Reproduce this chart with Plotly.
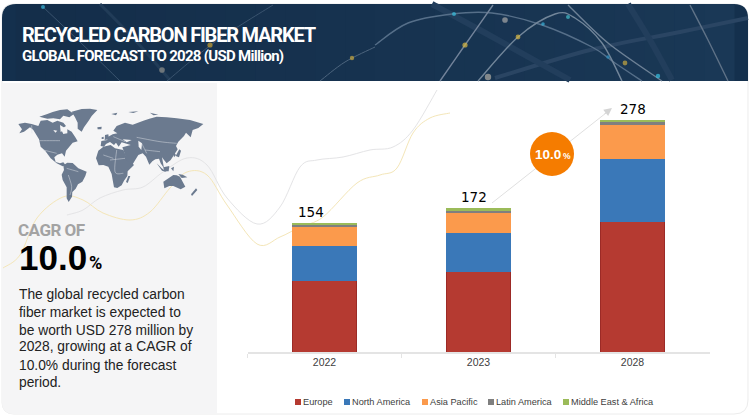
import plotly.graph_objects as go

W, H = 750, 417
categories = ["2022", "2023", "2028"]
europe = [85, 96, 156]
north_america = [42, 46, 75]
asia_pacific = [23, 25, 40]
latin_america = [2, 2, 4]
middle_east_africa = [2, 3, 3]
totals = [154, 172, 278]
series_names = ["Europe", "North America", "Asia Pacific", "Latin America", "Middle East & Africa"]
series_colors = ["#b53a31", "#3a78b8", "#fb9a4c", "#7f7f7f", "#9bbb59"]
label_shift = [-14, -5, 0]
paragraph_lines = ["The global recycled carbon", "fiber market is expected to", "be worth USD 278 million by",
                   "2028, growing at a CAGR of", "10.0% during the forecast", "period."]


def X(x):
    return round(x / W, 5)


def Y(y):
    return round(1 - y / H, 5)


def poly(pts):
    return "M" + " L".join(f"{X(x)},{Y(y)}" for x, y in pts) + " Z"


def smooth(pts):
    d = f"M{X(pts[0][0])},{Y(pts[0][1])}"
    n = len(pts)
    for i in range(n - 1):
        p0 = pts[max(i - 1, 0)]
        p1 = pts[i]
        p2 = pts[i + 1]
        p3 = pts[min(i + 2, n - 1)]
        c1 = (p1[0] + (p2[0] - p0[0]) / 6, p1[1] + (p2[1] - p0[1]) / 6)
        c2 = (p2[0] - (p3[0] - p1[0]) / 6, p2[1] - (p3[1] - p1[1]) / 6)
        d += f" C{X(c1[0])},{Y(c1[1])} {X(c2[0])},{Y(c2[1])} {X(p2[0])},{Y(p2[1])}"
    return d


def rrect(x0, y0, x1, y1, tl=0, tr=0, br=0, bl=0):
    d = f"M{X(x0 + tl)},{Y(y0)} L{X(x1 - tr)},{Y(y0)}"
    if tr:
        d += f" Q{X(x1)},{Y(y0)} {X(x1)},{Y(y0 + tr)}"
    d += f" L{X(x1)},{Y(y1 - br)}"
    if br:
        d += f" Q{X(x1)},{Y(y1)} {X(x1 - br)},{Y(y1)}"
    d += f" L{X(x0 + bl)},{Y(y1)}"
    if bl:
        d += f" Q{X(x0)},{Y(y1)} {X(x0)},{Y(y1 - bl)}"
    d += f" L{X(x0)},{Y(y0 + tl)}"
    if tl:
        d += f" Q{X(x0)},{Y(y0)} {X(x0 + tl)},{Y(y0)}"
    return d + " Z"


shapes = []


def add_path(path, fill=None, line=None, width=0, opacity=1.0):
    s = dict(type="path", path=path, xref="paper", yref="paper", layer="below", opacity=opacity,
             line=dict(color=line or "rgba(0,0,0,0)", width=width))
    if fill:
        s["fillcolor"] = fill
    shapes.append(s)


def add_spot(x, y, r, color, opacity=0.7):
    shapes.append(dict(type="circle", xref="paper", yref="paper", layer="below", opacity=opacity,
                       x0=X(x - r), x1=X(x + r), y0=Y(y + r), y1=Y(y - r),
                       fillcolor=color, line=dict(width=0)))


# Card outline and left panel
add_path(rrect(2, 4, 748, 414, 12, 14, 14, 12), fill="#ffffff", line="#ececec", width=1)
add_path(rrect(2, 83, 217, 414, 0, 0, 0, 12), fill="#f5f5f6")

# Banner with horizontal colour drift
add_path(rrect(2, 4, 748, 81, 14, 14, 0, 0), fill="#14304d")
steps = 24
for i in range(steps):
    t = i / (steps - 1)
    x0 = 16 + (734 - 16) * i / steps
    x1 = 16 + (734 - 16) * (i + 1) / steps + 0.6
    c = (int(20 + 6 * t), int(46 + 10 * t), int(74 + 12 * t))
    add_path(poly([(x0, 4), (x1, 4), (x1, 81), (x0, 81)]), fill=f"rgb{c}")

# Faint wide bands inside the banner
for pts, w, col in [
    ([(495, 78), (590, 50), (680, 32), (748, 18)], 4, "#2a4563"),
    ([(628, 4), (650, 40), (672, 80)], 6, "#223e5c"),
    ([(432, 4), (480, 30), (570, 80)], 6, "#223e5c"),
    ([(100, 4), (135, 40), (170, 80)], 3, "#213c58"),
]:
    add_path(smooth(pts), line=col, width=w)

# Fibres in the banner
for pts, w, col in [
    ([(375, 45), (408, 23), (452, 14), (492, 13), (542, 25), (592, 47), (615, 63), (642, 81)], 1.4, "#566f89"),
    ([(440, 81), (465, 45), (493, 5)], 1.4, "#72839a"),
    ([(478, 81), (518, 37), (555, 14), (575, 18), (602, 43), (622, 81)], 1.4, "#72869a"),
    ([(568, 5), (608, 43), (662, 81)], 1.4, "#6d8196"),
    ([(690, 5), (708, 40), (728, 81)], 1.4, "#5f7287"),
    ([(43, 7), (80, 42), (120, 81)], 0.8, "#425c76"),
    ([(273, 5), (215, 42), (167, 81)], 0.8, "#425c76"),
    ([(375, 47), (345, 62), (320, 81)], 1.0, "#4d657e"),
]:
    add_path(smooth(pts), line=col, width=w)

for x, y, r, col in [
    (43, 7, 2, "#38b6d8"), (454, 14, 2, "#38c0e0"), (543, 24, 1.8, "#38b0d8"), (568, 17, 2, "#45c0cc"),
    (658, 76, 2.2, "#38c0e0"), (608, 57, 1.8, "#2a8fc0"), (465, 45, 2.6, "#d8b840"), (518, 37, 2.4, "#d8b840"),
    (625, 63, 2.4, "#c8a840"), (210, 45, 2.6, "#c8a030"), (352, 58, 2.2, "#c8a840"), (505, 20, 2.8, "#a8a8a8"),
    (488, 77, 3.2, "#b0aca4"), (162, 70, 2.8, "#8f8f8a"),
]:
    add_spot(x, y, r, col)

# Thin decorative curves
add_path(smooth([(67, 215), (83, 210), (100, 198), (123, 190), (143, 187), (163, 172), (187, 158), (207, 165),
                 (227, 198), (257, 224), (280, 207), (300, 167), (317, 160), (343, 157), (370, 150), (393, 147),
                 (413, 130), (437, 90)]), line="#e4e4e6", width=1)
add_path(smooth([(3, 268), (20, 255), (37, 218), (63, 197), (83, 200), (103, 213), (130, 220), (150, 212),
                 (170, 188), (187, 172), (207, 175), (227, 205), (257, 244), (280, 237), (300, 227), (323, 217),
                 (357, 183), (380, 175), (397, 168), (413, 133), (430, 118), (450, 113)]), line="#f4e6b8", width=1)


# Simplified world map (zoom-space outline scaled to the page)
def zm(pts):
    return [(10 + x / 3, 100 + y / 3) for x, y in pts]


MAP = "#6b7a8f"
PANEL = "#f5f5f6"
land = [
    # North America
    [(25, 72), (45, 68), (65, 72), (85, 78), (92, 62), (112, 60), (128, 68), (142, 62), (160, 68), (168, 78), (153, 88),
     (160, 102), (172, 100), (172, 88), (185, 95), (196, 112), (203, 124), (188, 128), (178, 140), (168, 152), (164, 170),
     (156, 160), (142, 164), (133, 172), (137, 186), (150, 190), (160, 187), (167, 196), (158, 199), (140, 190), (122, 175),
     (106, 153), (92, 140), (87, 118), (70, 90), (60, 82), (42, 95), (28, 100), (36, 88)],
    # Arctic islands
    [(88, 50), (112, 42), (128, 36), (150, 30), (172, 28), (192, 42), (178, 52), (160, 47), (150, 58), (130, 55), (112, 56)],
    # Greenland
    [(185, 35), (215, 27), (240, 26), (262, 30), (245, 48), (236, 62), (222, 82), (215, 95), (203, 86), (203, 68), (195, 52)],
    # South America
    [(160, 196), (172, 188), (188, 189), (205, 205), (230, 215), (226, 228), (217, 245), (204, 253), (197, 266), (187, 276), (186, 290),
     (176, 306), (170, 295), (170, 262), (158, 240), (155, 224), (162, 210)],
    # Africa
    [(265, 152), (280, 140), (302, 135), (315, 145), (340, 150), (350, 172), (372, 195), (353, 214), (352, 228), (342, 242), (335, 256),
     (322, 264), (312, 262), (308, 240), (305, 222), (295, 200), (280, 195), (266, 196), (258, 175)],
    # Europe with Asia
    [(272, 138), (274, 123), (292, 120), (292, 112), (308, 103), (322, 100), (310, 92), (320, 78), (345, 68), (368, 74), (400, 62),
     (418, 56), (440, 50), (470, 52), (500, 55), (540, 60), (580, 72), (565, 84), (548, 90), (542, 112), (528, 98), (522, 108),
     (505, 125), (498, 138), (503, 148), (492, 165), (482, 180), (470, 190), (462, 180), (456, 172), (462, 205), (452, 190),
     (447, 176), (436, 178), (427, 184), (418, 194), (408, 170), (398, 160), (385, 165), (366, 196), (350, 180), (342, 155),
     (337, 142), (362, 135), (335, 127), (326, 140), (318, 128), (312, 135), (300, 126), (288, 132), (282, 140)],
    # Smaller land
    [(355, 228), (361, 228), (353, 249), (348, 246)],
    [(460, 245), (480, 232), (490, 225), (500, 226), (510, 230), (518, 245), (526, 260), (512, 268), (490, 258), (478, 258), (463, 265)],
    [(505, 222), (518, 224), (532, 232), (515, 234)],
    [(440, 190), (455, 205), (470, 216), (456, 212)],
    [(460, 202), (478, 198), (476, 214), (462, 214)],
    [(483, 205), (492, 200), (490, 214)],
    [(497, 168), (508, 148), (513, 152), (507, 172)],
    [(285, 105), (295, 103), (297, 118), (284, 120)],
    [(275, 112), (281, 110), (281, 117), (275, 117)],
    [(262, 82), (275, 80), (274, 88), (263, 88)],
    [(558, 265), (562, 270), (546, 288), (543, 283)],
    [(420, 38), (445, 44), (430, 46)],
    [(304, 42), (322, 38), (318, 46)],
    [(355, 36), (385, 34), (370, 39)],
    [(490, 155), (498, 165), (492, 172)],
]
for part in land:
    add_path(poly(zm(part)), fill=MAP)
for part in [
    [(338, 118), (365, 120), (350, 127)],
    [(385, 122), (396, 130), (394, 150), (386, 140)],
    [(150, 75), (168, 86), (152, 96)],
    [(130, 90), (142, 92), (136, 98)],
]:
    add_path(poly(zm(part)), fill=PANEL)
for pts in [
    [(65, 76), (66, 100)], [(88, 122), (150, 122)], [(100, 150), (140, 160)], [(175, 225), (185, 260), (180, 285)],
    [(300, 180), (345, 175)], [(320, 150), (315, 215), (340, 220)], [(380, 112), (450, 125), (500, 130)],
    [(405, 150), (450, 155)], [(310, 110), (345, 125)], [(280, 165), (310, 175)], [(395, 130), (410, 160)],
    [(170, 205), (205, 215)],
]:
    add_path(smooth(zm(pts)), line="#d8dce2", width=0.5)

# Legend swatches
legend_swatch_x = [295, 344, 422, 488, 563]
legend_text_x = [302.5, 351, 429, 495, 570]
LEG_Y = 402
for sx, c in zip(legend_swatch_x, series_colors):
    add_path(poly([(sx, LEG_Y - 3), (sx + 6, LEG_Y - 3), (sx + 6, LEG_Y + 3), (sx, LEG_Y + 3)]), fill=c)

# Growth arrow shaft (behind the bubble) and CAGR bubble
add_path(f"M{X(492)},{Y(203)} L{X(606)},{Y(113)}", line="#e0e0e0", width=1)
add_spot(552, 154, 22, "#f57c00", 1.0)

fig = go.Figure()
for name, values, color in zip(series_names, [europe, north_america, asia_pacific, latin_america, middle_east_africa], series_colors):
    line = dict(color="#9c2a26", width=1) if name == "Europe" else dict(width=0)
    fig.add_trace(go.Bar(name=name, x=categories, y=values, marker=dict(color=color, line=line), showlegend=False))

annotations = []


def note(text, x, y, size, color="#000000", family="Liberation Sans", spacing=None):
    if spacing is not None:
        text = f'<span style="letter-spacing:{spacing}px">{text}</span>'
    annotations.append(dict(text=text, x=X(x), y=Y(y), xref="paper", yref="paper", showarrow=False, xanchor="left",
                            yanchor="middle", align="left", borderpad=0, font=dict(size=size, color=color, family=family)))


for i, (total, shift) in enumerate(zip(totals, label_shift)):
    annotations.append(dict(text=str(total), x=i, y=total, xref="x", yref="y", showarrow=False, yanchor="bottom",
                            xshift=shift, yshift=1, font=dict(size=13.5, color="#000000", family="DejaVu Sans")))

annotations.append(dict(text="", x=X(612), y=Y(108), xref="paper", yref="paper", ax=-9, ay=7, axref="pixel",
                        ayref="pixel", showarrow=True, arrowhead=2, arrowsize=1.6, arrowwidth=1, arrowcolor="#d4d4d4"))

COND = "Roboto"
note("<b>RECYCLED CARBON FIBER MARKET</b>", 21, 34.8, 20, "#ffffff", COND, spacing=-1.2)
note("<b>GLOBAL FORECAST TO 2028 (USD Million)</b>", 21, 56, 15, "#ffffff", COND, spacing=-0.72)
note("<b>CAGR OF</b>", 17.5, 230, 17, "#a3a3a3", COND, spacing=-0.5)
note("<b>10.0</b>", 18, 257, 35, "#000000")
note("<b>%</b>", 88, 262, 18, "#000000", COND, spacing=-1)
for y, line_text in zip([295, 312.5, 330, 347, 365, 382], paragraph_lines):
    note(line_text, 18, y, 13.8, "#222222")
note("<b>10.0</b>", 534, 155, 13.5, "#ffffff")
note("<b>%</b>", 562, 156, 8.5, "#ffffff")
for tx, name in zip(legend_text_x, series_names):
    note(name, tx, LEG_Y, 9.2, "#404040")

fig.update_layout(
    width=W, height=H, autosize=False, margin=dict(l=0, r=0, t=0, b=0),
    paper_bgcolor="#ffffff", plot_bgcolor="rgba(0,0,0,0)", barmode="stack", bargap=0.578,
    shapes=shapes, annotations=annotations, showlegend=False,
    xaxis=dict(domain=[247.5 / W, 709.5 / W], type="category", categoryorder="array", categoryarray=categories,
               range=[-0.5, 2.5], showline=True, linecolor="#e4e4e4", linewidth=1.5, tickangle=0,
               ticks="outside", ticklen=4, tickcolor="#e4e4e4", tickson="boundaries", showgrid=False,
               tickfont=dict(size=10.5, color="#404040", family="Liberation Sans")),
    yaxis=dict(domain=[1 - 352 / H, 1 - 101.2 / H], range=[0, 300], visible=False, fixedrange=True),
)
fig.write_html("out.html", default_width="750px", default_height="417px", config={"displayModeBar": False},
               post_script="document.body.style.margin='0';document.documentElement.style.overflow='hidden';")
